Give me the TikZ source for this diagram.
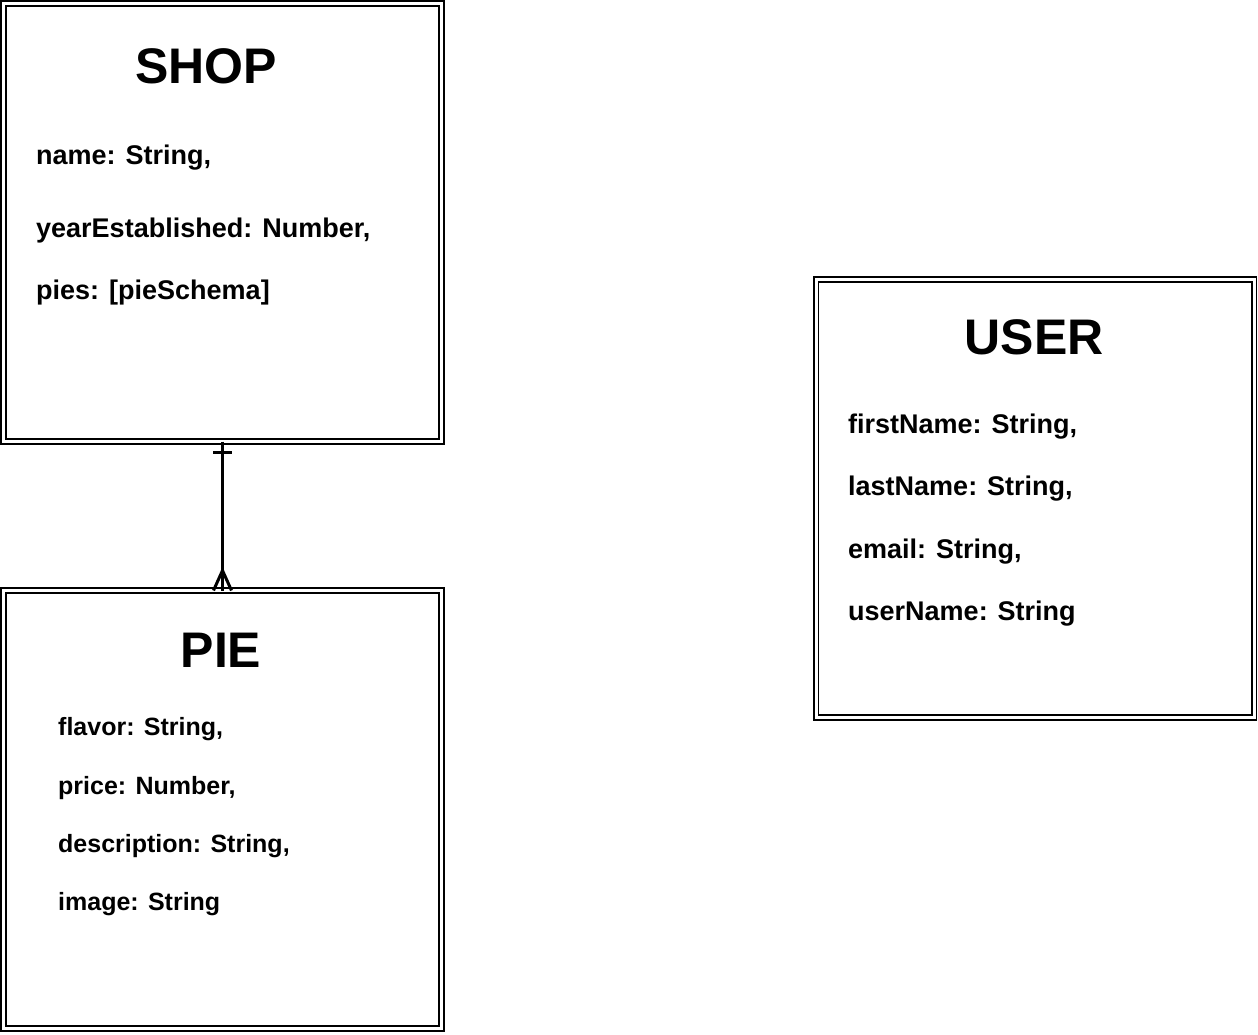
\documentclass[tikz,border=0pt]{standalone}
\usepackage{fontspec}
\setmainfont{Liberation Sans}
\begin{document}
\begin{tikzpicture}
    [
        x=1pt, y=-1pt,
        table/.style = {draw, shape=rectangle, double, double distance=3pt, line width=1.6pt, minimum width=438pt, minimum height=438pt, inner sep=0pt, outer sep=0pt},
        title/.style = {font=\fontsize{50}{50}\selectfont\bfseries, inner sep=0pt},
        field/.style = {anchor=west, font=\fontsize{27}{27}\selectfont\bfseries, inner sep=0pt, text height=19pt, text depth=0pt},
        small/.style = {field, font=\fontsize{25}{25}\selectfont\bfseries, text height=18pt},
        link/.style = {line width=3pt},
    ]
    \useasboundingbox (0,0) rectangle (1258,1035);

    \node[table] (shop) at (222.5,222.5) {};
    \node[table] (pie) at (222.5,809.5) {};
    \node[table] (user) at (1035,498.5) {};

    \node[title] (shopt) at (206,66) {SHOP};
    \node[field] (s1) at (36,155) {name: String,};
    \node[field] (s2) at (36,228) {yearEstablished: Number,};
    \node[field] (s3) at (36,290) {pies: [pieSchema]};

    \node[title] (piet) at (221,650) {PIE};
    \node[small] (p1) at (58,726) {flavor: String,};
    \node[small] (p2) at (58,785) {price: Number,};
    \node[small] (p3) at (58,843) {description: String,};
    \node[small] (p4) at (58,901) {image: String};

    \node[title] (usert) at (1034,337) {USER};
    \node[field] (u1) at (848,424) {firstName: String,};
    \node[field] (u2) at (848,486) {lastName: String,};
    \node[field] (u3) at (848,549) {email: String,};
    \node[field] (u4) at (848,611) {userName: String};

    % one shop, many pies
    \coordinate (foot) at ([yshift=20pt]pie.north);
    \draw [link] (shop.south) -- (pie.north);
    \draw [link] ([shift={(-9.5pt,-11pt)}]shop.south) -- ([shift={(9.5pt,-11pt)}]shop.south);
    \draw [link] (foot) -- ([xshift=-9pt]pie.north);
    \draw [link] (foot) -- ([xshift=9pt]pie.north);
\end{tikzpicture}
\end{document}
